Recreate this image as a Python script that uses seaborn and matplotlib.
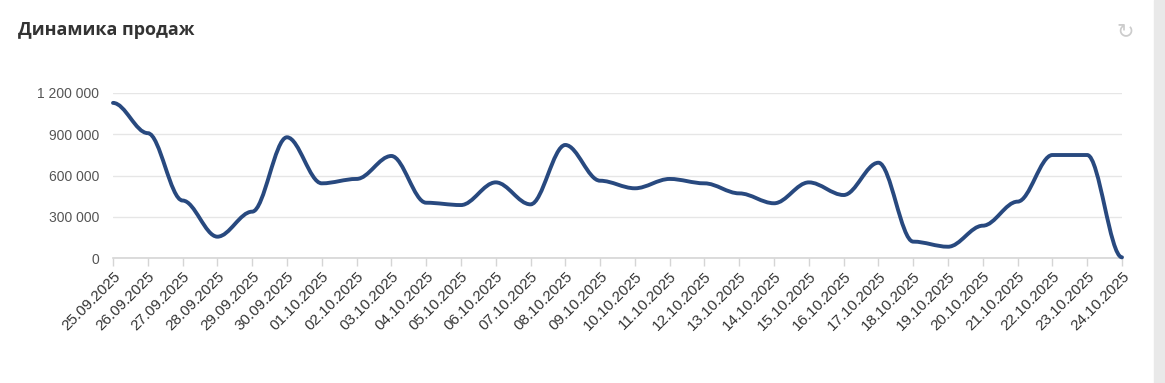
import numpy as np
import matplotlib
matplotlib.use("Agg")
import matplotlib.pyplot as plt
import seaborn as sns
from matplotlib.path import Path
from matplotlib.patches import PathPatch, Rectangle

# данные
dates = ["25.09.2025", "26.09.2025", "27.09.2025", "28.09.2025", "29.09.2025",
         "30.09.2025", "01.10.2025", "02.10.2025", "03.10.2025", "04.10.2025",
         "05.10.2025", "06.10.2025", "07.10.2025", "08.10.2025", "09.10.2025",
         "10.10.2025", "11.10.2025", "12.10.2025", "13.10.2025", "14.10.2025",
         "15.10.2025", "16.10.2025", "17.10.2025", "18.10.2025", "19.10.2025",
         "20.10.2025", "21.10.2025", "22.10.2025", "23.10.2025", "24.10.2025"]
sales = [1128000, 908000, 418000, 155000, 337000,
         878000, 543000, 575000, 742000, 402000,
         385000, 550000, 390000, 822000, 562000,
         507000, 575000, 543000, 470000, 398000,
         550000, 458000, 693000, 119000, 82000,
         235000, 410000, 749000, 749000, 5000]
yticks = [0, 300000, 600000, 900000, 1200000]

line_color = "#28497f"
grid_color = "#e6e6e6"
text_color = "#555555"

sns.set_style("white")
plt.rcParams["font.family"] = ["Liberation Sans", "DejaVu Sans"]

fig = plt.figure(figsize=(11.65, 3.83), dpi=100)
ax = fig.add_axes([113 / 1165, 125 / 383, (1122 - 113) / 1165, 165 / 383])


def smooth_path(xs, ys, k=0.35):
    # гладкая линия: безье с горизонтальными касательными в точках
    verts = [(xs[0], ys[0])]
    codes = [Path.MOVETO]
    for i in range(1, len(xs)):
        d = (xs[i] - xs[i - 1]) * k
        verts += [(xs[i - 1] + d, ys[i - 1]), (xs[i] - d, ys[i]), (xs[i], ys[i])]
        codes += [Path.CURVE4] * 3
    return Path(verts, codes)


x = np.arange(len(dates))
ax.add_patch(PathPatch(smooth_path(x, sales), facecolor="none",
                       edgecolor=line_color, linewidth=2.8,
                       capstyle="round", joinstyle="round",
                       clip_on=False, zorder=3))

ax.set_xlim(0, len(dates) - 1)
ax.set_ylim(0, 1200000)

ax.set_yticks(yticks)
ax.set_yticklabels([f"{v:,}".replace(",", " ") for v in yticks])
ax.set_xticks(x)
ax.set_xticklabels(dates, rotation=45, ha="right", rotation_mode="anchor")

ax.grid(axis="y", color=grid_color, linewidth=1)
ax.set_axisbelow(True)
sns.despine(ax=ax, left=True, top=True, right=True)
ax.spines["bottom"].set_color("#d5d5d5")
ax.spines["bottom"].set_linewidth(1.2)

ax.tick_params(axis="y", length=0, pad=10, labelsize=10, labelcolor=text_color)
ax.tick_params(axis="x", length=6, width=1, color="#d5d5d5", pad=2,
               labelsize=11, labelcolor="#333333", bottom=True)

fig.text(18 / 1165, 1 - 30 / 383, "Динамика продаж", fontsize=13,
         fontweight="bold", color="#333333", va="center", ha="left",
         family=["Open Sans", "DejaVu Sans"])
fig.text(1125 / 1165, 1 - 31 / 383, "↻", fontsize=15, color="#cccccc",
         ha="center", va="center", family="DejaVu Sans")
fig.patches.append(Rectangle((1154 / 1165, 0), 11 / 1165, 1,
                             transform=fig.transFigure, color="#e9e9e9"))

fig.savefig("out.png", dpi=100)
